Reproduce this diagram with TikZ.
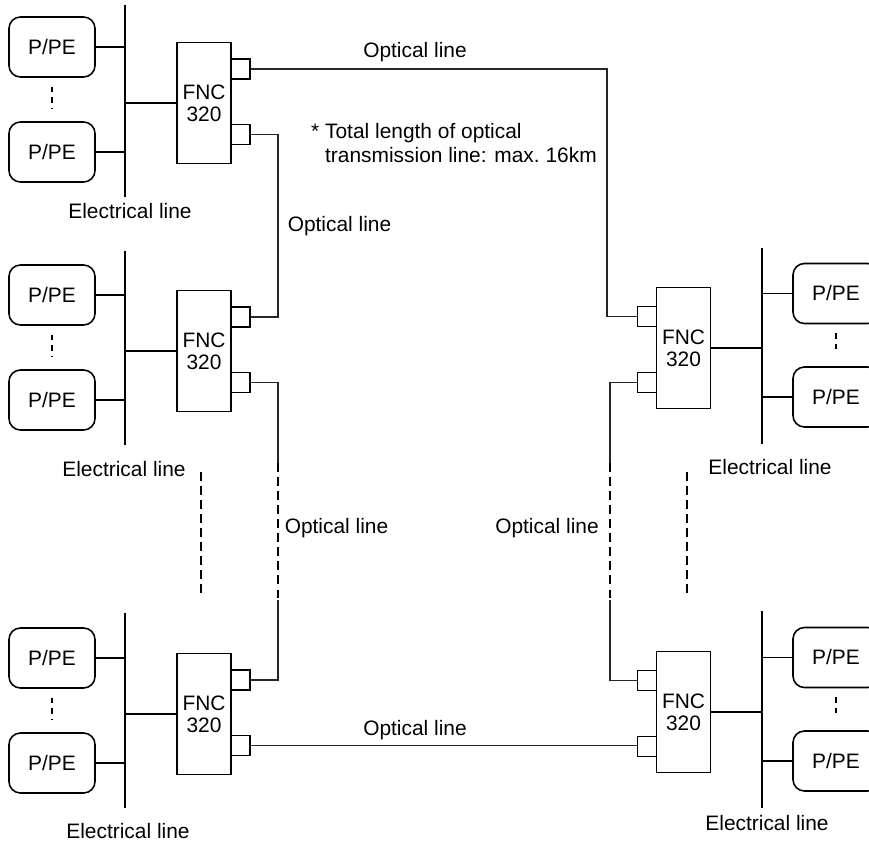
\documentclass[tikz,border=0pt]{standalone}
\usepackage{fontspec}
\setmainfont{Liberation Sans}
\begin{document}
\begin{tikzpicture}[
    x=0.2mm, y=-0.2mm,
    font=\fontsize{11.9pt}{12.6pt}\selectfont,
    station/.style={
        draw,
        rounded corners=6.5pt,
        line width=0.9pt,
        minimum width=1.72cm,
        minimum height=1.2cm,
        inner sep=0pt
    },
    converter/.style={
        draw,
        line width=0.9pt,
        minimum width=1.08cm,
        minimum height=2.42cm,
        align=center,
        inner sep=0pt
    },
    port/.style={
        draw,
        line width=0.7pt,
        minimum width=0.38cm,
        minimum height=0.4cm,
        inner sep=0pt
    },
    bus/.style={line width=1.1pt},
    optical/.style={line width=0.6pt, draw=black!85},
    gap/.style={line width=0.6pt, dash pattern=on 5pt off 3pt},
    dots/.style={line width=0.8pt, dash pattern=on 3pt off 3pt,
        shorten <=1.8mm, shorten >=2.4mm}
]
    \clip (0,0) rectangle (869,844);

    \foreach \g/\dy/\top/\lab/\labx in {a/0/5/218/130, b/248/251/476/124, c/611/613/838/128}{
        \node[station] (pe1\g) at (52,47+\dy) {P/PE};
        \node[station] (pe2\g) at (52,152+\dy) {P/PE};
        \node[converter] (fnc\g) at (204,103+\dy) {FNC\\320};
        \node[port] (port1\g) at (240.5,69+\dy) {};
        \node[port] (port2\g) at (240.5,134.5+\dy) {};
        \coordinate (bustop\g) at (125,\top);
        \coordinate (busbot\g) at (125,197+\dy);
        \node[anchor=base] (elec\g) at (\labx,\lab) {Electrical line};

        \draw[bus] (bustop\g) -- (busbot\g);
        \draw[bus] (pe1\g.east) -- (pe1\g.east -| bustop\g);
        \draw[bus] (pe2\g.east) -- (pe2\g.east -| bustop\g);
        \draw[bus] (fnc\g.west) -- (fnc\g.west -| bustop\g);
        \draw[dots] (pe1\g) -- (pe2\g);
    }

    \foreach \g/\dy/\top/\lab/\labx in {d/0/248/474/770, e/364/611/830/767}{
        \node[station] (pe1\g) at (836,293.5+\dy) {P/PE};
        \node[station] (pe2\g) at (836,397+\dy) {P/PE};
        \node[converter] (fnc\g) at (683.5,348+\dy) {FNC\\320};
        \node[port] (port1\g) at (647,316.5+\dy) {};
        \node[port] (port2\g) at (647,382.5+\dy) {};
        \coordinate (bustop\g) at (762,\top);
        \coordinate (busbot\g) at (762,444+\dy);
        \node[anchor=base] (elec\g) at (\labx,\lab) {Electrical line};

        \draw[bus] (bustop\g) -- (busbot\g);
        \draw[bus] (pe1\g.west) -- (pe1\g.west -| bustop\g);
        \draw[bus] (pe2\g.west) -- (pe2\g.west -| bustop\g);
        \draw[bus] (fnc\g.east) -- (fnc\g.east -| bustop\g);
        \draw[dots] (pe1\g) -- (pe2\g);
    }

    \coordinate (bend1) at (607,200);
    \coordinate (bend2) at (278,225);
    \coordinate (gap1) at (278,463);
    \coordinate (gap2) at (278,600);
    \coordinate (gap3) at (610,463);
    \coordinate (gap4) at (610,600);
    \coordinate (link1) at (201,472);
    \coordinate (link2) at (201,595);
    \coordinate (link3) at (687,472);
    \coordinate (link4) at (687,595);

    \draw[optical] (port1a.east) -| (bend1) |- (port1d.west);
    \draw[optical] (port2a.east) -| (bend2) |- (port1b.east);
    \draw[optical] (port2b.east) -| (gap1);
    \draw[gap] (gap1) -- (gap2);
    \draw[optical] (gap2) |- (port1c.east);
    \draw[optical] (port2d.west) -| (gap3);
    \draw[gap] (gap3) -- (gap4);
    \draw[optical] (gap4) |- (port1e.west);
    \draw[optical] (port2c.east) -- (port2c.east -| port2e.west);
    \draw[gap] (link1) -- (link2);
    \draw[gap] (link3) -- (link4);

    \node[anchor=base] (optical1) at (415,58) {Optical line};
    \node[anchor=base] (optical2) at (339.5,231) {Optical line};
    \node[anchor=base] (optical3) at (336.5,533) {Optical line};
    \node[anchor=base] (optical4) at (547,533) {Optical line};
    \node[anchor=base] (optical5) at (415,735) {Optical line};
    \node[anchor=base west, align=left, font=\fontsize{11.9pt}{13.6pt}\selectfont]
        (note) at (305,162)
        {* Total length of optical\\\hphantom{* }transmission line: max.\ 16km};
\end{tikzpicture}
\end{document}
